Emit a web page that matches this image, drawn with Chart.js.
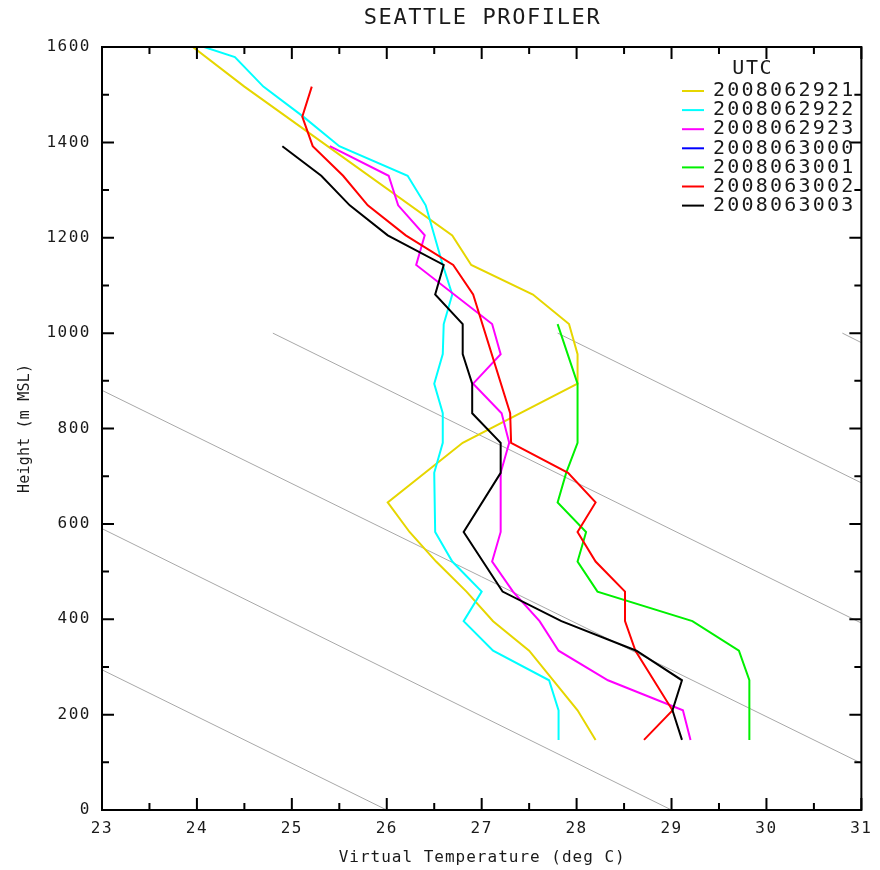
<!DOCTYPE html>
<html>
<head>
<meta charset="utf-8">
<script src="https://cdn.jsdelivr.net/npm/chart.js@4.4.1/dist/chart.umd.min.js"></script>
<style>
  body { margin: 0; background: #fff; }
  canvas { display: block; }
</style>
</head>
<body>
<canvas id="profilerChart" width="880" height="870"></canvas>
<script>
// Profiler range gates (m MSL), one per level in the series below
const heights = [147, 209, 272, 334, 396, 458, 521, 583, 645, 707, 770, 832, 894,
                 956, 1019, 1081, 1143, 1205, 1268, 1330, 1392, 1454, 1517, 1579, 1641];

// Virtual temperature (deg C) per gate, null = no point at that gate
const tv2008062921 = [28.20, 28.01, null, 27.50, 27.12, 26.84, 26.52, 26.24, 26.01, null, 26.80, null, 28.01,
                      28.01, 27.92, 27.54, 26.89, 26.69, null, null, null, null, 24.50, null, 23.69];
const tv2008062922 = [27.81, 27.81, 27.71, 27.12, 26.81, 27.00, 26.69, 26.51, null, 26.50, 26.59, 26.59, 26.50,
                      26.59, 26.60, 26.69, 26.59, null, 26.41, 26.22, 25.50, 25.12, 24.70, 24.40, 23.44];
const tv2008062923 = [29.20, 29.12, 28.33, 27.81, 27.61, 27.33, 27.11, 27.20, null, 27.20, 27.29, 27.21, 26.91,
                      27.20, 27.11, null, 26.31, 26.40, 26.12, 26.02, 25.40];
const tv2008063000 = [];
const tv2008063001 = [29.82, null, 29.82, 29.71, 29.22, 28.22, 28.01, 28.10, 27.80, 27.89, 28.01, null, 28.01,
                      null, 27.80];
const tv2008063002 = [28.71, 29.01, null, 28.62, 28.51, 28.51, 28.20, 28.01, 28.20, 27.91, 27.31, 27.30, null,
                      null, null, 26.91, 26.70, 26.20, 25.80, 25.54, 25.22, 25.11, 25.21];
const tv2008063003 = [29.11, 29.01, 29.11, 28.63, 27.84, 27.22, null, 26.81, null, 27.20, 27.20, 26.90, 26.90,
                      26.80, 26.80, 26.51, 26.60, 26.01, 25.61, 25.31, 24.90];

const utcLabels = ['2008062921', '2008062922', '2008062923', '2008063000', '2008063001', '2008063002', '2008063003'];
const seriesTemps = [tv2008062921, tv2008062922, tv2008062923, tv2008063000, tv2008063001, tv2008063002, tv2008063003];

// Gray background lines, end points
const guideTemps   = [[26, 23], [29, 23], [31, 23], [31, 24.8], [31, 27.8], [31, 30.8]];
const guideHeights = [[0, 294], [0, 590], [98, 880], [392, 1000], [686, 1000], [980, 1000]];

const xTicks = { min: 23, max: 31, step: 1 };
const yTicks = { min: 0, max: 1600, step: 200 };

// styles
const seriesColors = ['#e6d600', '#00ffff', '#ff00ff', '#0000ff', '#00f000', '#ff0000', '#000000'];
const FONT = "'DejaVu Sans Mono', 'Liberation Mono', monospace";
const TEXT = '#1a1a1a';

function toPoints(temps) {
    const pts = [];
    temps.forEach((t, i) => {
        if (t !== null) pts.push({ x: t, y: heights[i] });
    });
    return pts;
}

const datasets = [];
guideTemps.forEach((t, i) => {
    datasets.push({
        data: [{ x: t[0], y: guideHeights[i][0] }, { x: t[1], y: guideHeights[i][1] }],
        borderColor: '#a8a8a8',
        borderWidth: 1,
        order: 100
    });
});
seriesTemps.forEach((temps, i) => {
    datasets.push({
        label: utcLabels[i],
        data: toPoints(temps),
        borderColor: seriesColors[i],
        borderWidth: 2,
        order: seriesTemps.length - i
    });
});

function spacedText(ctx, text, x, y, spacing, align) {
    ctx.letterSpacing = spacing + 'px';
    let w = ctx.measureText(text).width - spacing;
    let sx = x;
    if (align === 'center') sx = x - w / 2;
    if (align === 'right') sx = x - w;
    ctx.textAlign = 'left';
    ctx.fillText(text, sx, y);
    ctx.letterSpacing = '0px';
}

/**
 * Frame with inward ticks, titles and the UTC legend
 */
const profilerDecor = {
    id: 'profilerDecor',
    beforeDraw(chart) {
        const ctx = chart.ctx;
        ctx.save();
        ctx.fillStyle = '#fff';
        ctx.fillRect(0, 0, chart.width, chart.height);
        ctx.restore();
        ctx.letterSpacing = '1.5px';
    },
    afterDraw(chart) {
        const { ctx, chartArea: a, scales } = chart;
        const xs = scales.x, ys = scales.y;
        ctx.save();
        ctx.letterSpacing = '0px';
        ctx.strokeStyle = '#000';
        ctx.lineWidth = 2;
        ctx.strokeRect(a.left, a.top, a.right - a.left, a.bottom - a.top);

        ctx.beginPath();
        const xv = xs.ticks.map(t => t.value);
        xv.forEach((v, i) => {
            const px = xs.getPixelForValue(v);
            ctx.moveTo(px, a.bottom); ctx.lineTo(px, a.bottom - 12);
            ctx.moveTo(px, a.top); ctx.lineTo(px, a.top + 12);
            if (i < xv.length - 1) {
                const pm = xs.getPixelForValue((v + xv[i + 1]) / 2);
                ctx.moveTo(pm, a.bottom); ctx.lineTo(pm, a.bottom - 7);
                ctx.moveTo(pm, a.top); ctx.lineTo(pm, a.top + 7);
            }
        });
        const yv = ys.ticks.map(t => t.value);
        yv.forEach((v, i) => {
            const py = ys.getPixelForValue(v);
            ctx.moveTo(a.left, py); ctx.lineTo(a.left + 12, py);
            ctx.moveTo(a.right, py); ctx.lineTo(a.right - 12, py);
            if (i < yv.length - 1) {
                const pm = ys.getPixelForValue((v + yv[i + 1]) / 2);
                ctx.moveTo(a.left, pm); ctx.lineTo(a.left + 7, pm);
                ctx.moveTo(a.right, pm); ctx.lineTo(a.right - 7, pm);
            }
        });
        ctx.stroke();

        // titles
        ctx.fillStyle = TEXT;
        ctx.textBaseline = 'middle';
        const cx = (a.left + a.right) / 2;
        ctx.font = '22px ' + FONT;
        spacedText(ctx, 'SEATTLE PROFILER', cx, 18, 1.6, 'center');
        ctx.font = '16px ' + FONT;
        spacedText(ctx, 'Virtual Temperature (deg C)', cx, 858, 1.0, 'center');
        ctx.save();
        ctx.translate(25, (a.top + a.bottom) / 2);
        ctx.rotate(-Math.PI / 2);
        ctx.font = '15px ' + FONT;
        spacedText(ctx, 'Height (m MSL)', 0, 0, 0.2, 'center');
        ctx.restore();

        // legend
        ctx.font = '20px ' + FONT;
        spacedText(ctx, 'UTC', 752, 69, 1.6, 'center');
        utcLabels.forEach((lbl, i) => {
            const ry = 91 + i * 19.1;
            ctx.strokeStyle = seriesColors[i];
            ctx.lineWidth = 2;
            ctx.beginPath();
            ctx.moveTo(682, ry); ctx.lineTo(704, ry);
            ctx.stroke();
            spacedText(ctx, lbl, 713, ry, 2.2, 'left');
        });
        ctx.restore();
    }
};

new Chart(document.getElementById('profilerChart'), {
    type: 'line',
    data: { datasets: datasets },
    options: {
        responsive: false,
        animation: false,
        devicePixelRatio: 1,
        layout: { padding: { top: 47, right: 16, left: 0, bottom: 0 } },
        elements: {
            point: { radius: 0, hoverRadius: 0 },
            line: { tension: 0, fill: false }
        },
        plugins: {
            legend: { display: false },
            tooltip: { enabled: false },
            title: { display: false }
        },
        scales: {
            x: {
                type: 'linear',
                min: xTicks.min,
                max: xTicks.max,
                grid: { display: false, drawTicks: false },
                border: { display: false },
                ticks: {
                    stepSize: xTicks.step,
                    padding: 9,
                    color: TEXT,
                    font: { family: FONT, size: 16 },
                    callback: function(value) { return String(value); }
                },
                afterFit: function(scale) { scale.height = 60; }
            },
            y: {
                type: 'linear',
                min: yTicks.min,
                max: yTicks.max,
                grid: { display: false, drawTicks: false },
                border: { display: false },
                ticks: {
                    stepSize: yTicks.step,
                    padding: 11,
                    color: TEXT,
                    font: { family: FONT, size: 16 },
                    callback: function(value) { return String(value); }
                },
                afterFit: function(scale) { scale.width = 102; }
            }
        }
    },
    plugins: [profilerDecor]
});
</script>
</body>
</html>
